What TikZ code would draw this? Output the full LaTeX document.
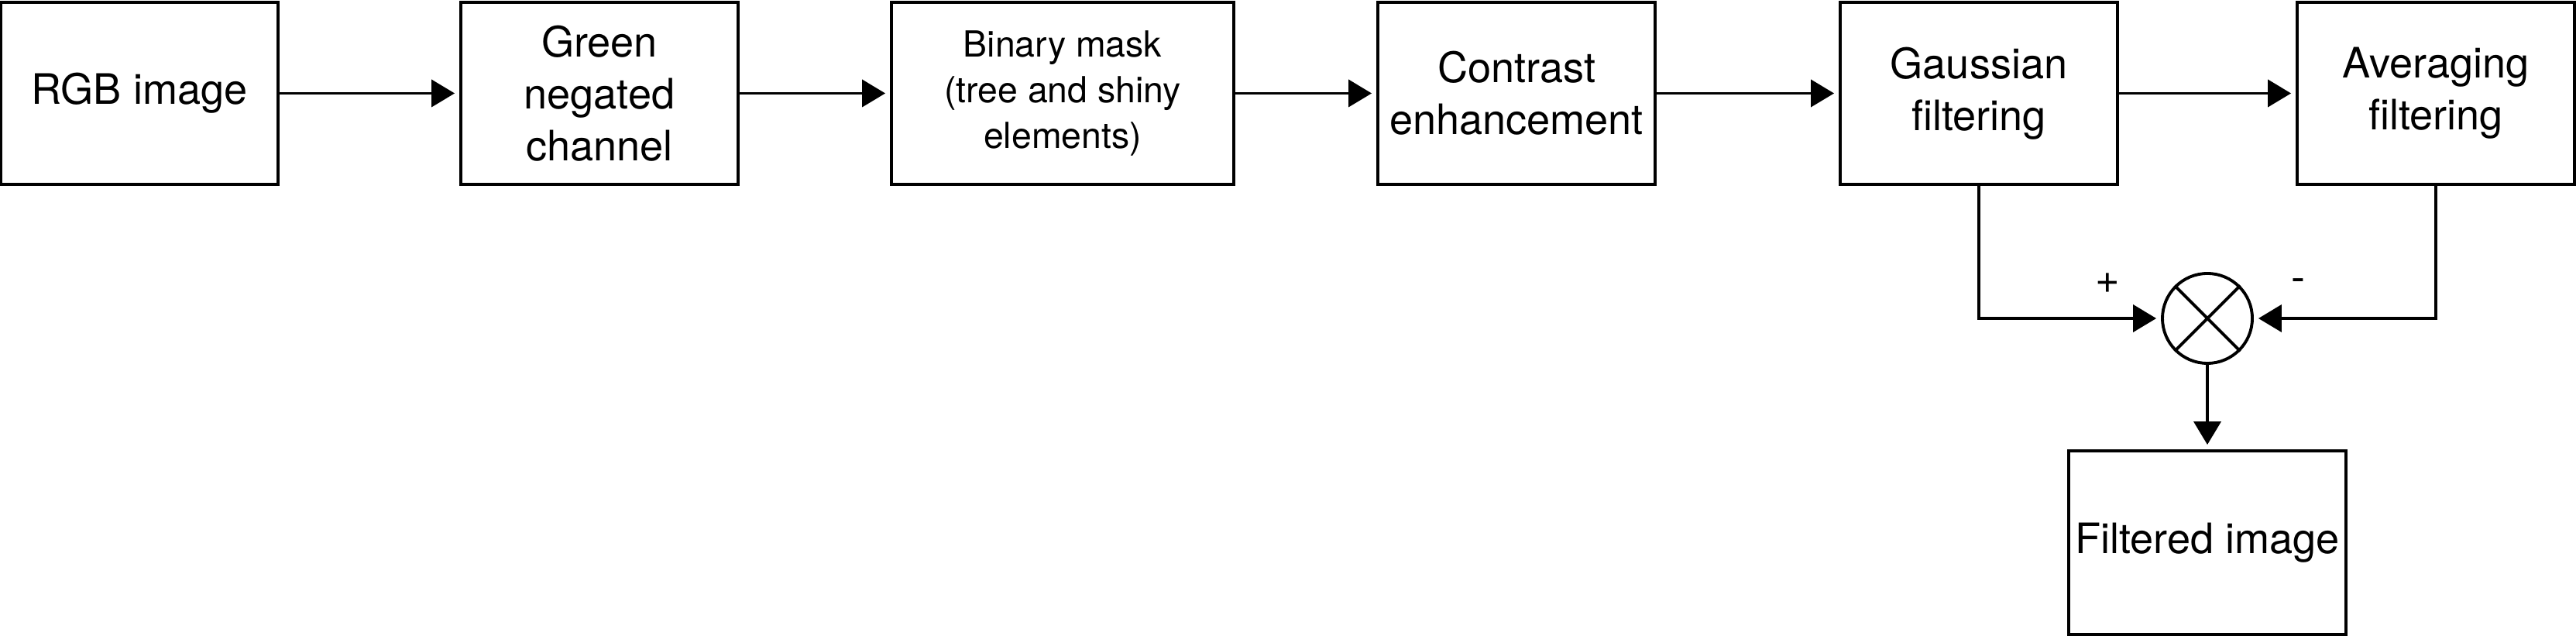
\documentclass[tikz,border=0pt]{standalone}
\usepackage{fontspec}
\setmainfont{TeX Gyre Heros}
\usetikzlibrary{arrows.meta}

\tikzset{
  block/.style={draw, line width=1.1pt, minimum width=3.58cm, minimum height=2.35cm,
    inner sep=0pt, align=center, font=\fontsize{15.4}{19}\selectfont},
  flow/.style={line width=1.1pt, -{Triangle[length=3mm,width=3.5mm]}, shorten >=0.6mm},
}

\begin{document}
\begin{tikzpicture}

    % Fix the page to the size of the reference
    \useasboundingbox (0,0) rectangle (33.26,-8.21);

    % Centres of the blocks in the top row
    \coordinate (Prgb)   at (1.80, -1.205);    % RGB image
    \coordinate (Pgreen) at (7.74, -1.205);    % Green negated channel
    \coordinate (Pmask)  at (13.72, -1.205);   % Binary mask
    \coordinate (Pcont)  at (19.58, -1.205);   % Contrast enhancement
    \coordinate (Pgauss) at (25.55, -1.205);   % Gaussian filtering
    \coordinate (Pavg)   at (31.45, -1.205);   % Averaging filtering

    % Centres of the summing point and the output block
    \coordinate (Psum)  at (28.50, -4.11);
    \coordinate (Pfilt) at (28.50, -7.005);

    % Draw the blocks of the top row
    \node[block] (rgb)   at (Prgb)   {RGB image};
    \node[block] (green) at (Pgreen) {Green\\negated\\channel};
    \node[block, minimum width=4.42cm, font=\fontsize{13.2}{16.8}\selectfont]
                 (mask)  at (Pmask)  {Binary mask\\(tree and shiny\\elements)};
    \node[block] (cont)  at (Pcont)  {Contrast\\enhancement};
    \node[block] (gauss) at (Pgauss) {Gaussian\\filtering};
    \node[block] (avg)   at (Pavg)   {Averaging\\filtering};

    % Draw the summing point as a crossed circle
    \node[draw, circle, line width=1.1pt, minimum size=1.16cm, inner sep=0pt] (sum) at (Psum) {};
    \draw[line width=1.1pt] (sum.north west) -- (sum.south east);
    \draw[line width=1.1pt] (sum.north east) -- (sum.south west);

    % Draw the output block
    \node[block, minimum height=2.37cm] (filt) at (Pfilt) {Filtered image};

    % Arrows along the top row
    \draw[flow] (rgb)   -- (green);
    \draw[flow] (green) -- (mask);
    \draw[flow] (mask)  -- (cont);
    \draw[flow] (cont)  -- (gauss);
    \draw[flow] (gauss) -- (avg);

    % Arrows into and out of the summing point
    \draw[flow] (gauss.south) |- (sum.west);
    \draw[flow] (avg.south)   |- (sum.east);
    \draw[flow] (sum.south) -- (filt.north);

    % Signs of the two inputs
    \node[font=\fontsize{15.4}{19}\selectfont] (plus)  at (27.21, -3.66) {+};
    \node[font=\fontsize{15.4}{19}\selectfont] (minus) at (29.67, -3.68) {-};

\end{tikzpicture}
\end{document}
